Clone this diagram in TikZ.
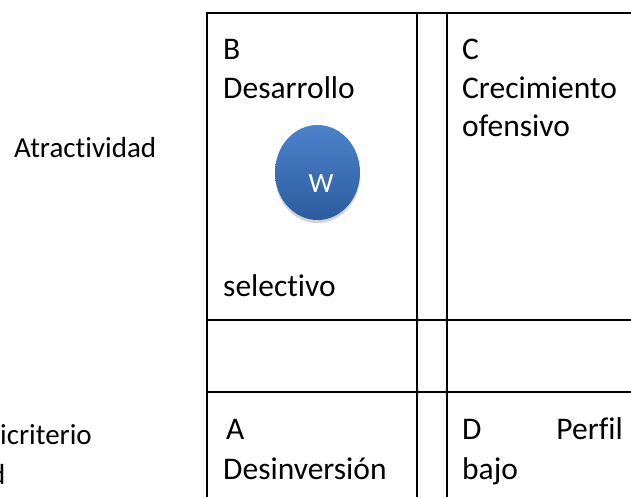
\documentclass[tikz,border=0pt]{standalone}
\usepackage{fontspec}
\setmainfont{Carlito}[Ligatures=NoCommon]
\usetikzlibrary{shapes.geometric, shadows}
\definecolor{balltop}{RGB}{76,130,203}
\definecolor{ballbottom}{RGB}{44,92,158}

\begin{document}
\begin{tikzpicture}[x=1pt,y=-1pt,
    every node/.style={inner sep=0pt,anchor=base west},
    cell/.style={font=\fontsize{31.5}{39}\selectfont},
    side/.style={font=\fontsize{29}{37}\selectfont},
    rule/.style={line width=2.9pt,line cap=rect},
    ball/.style={ellipse,minimum width=85,minimum height=95,anchor=center,
        top color=balltop,bottom color=ballbottom,
        drop shadow={opacity=0.35,shadow xshift=0pt,shadow yshift=-3pt}}]
    \clip[use as bounding box] (0,0) rectangle (631,497);

    \draw[rule] (207,505) -- (207,13) -- (640,13);
    \draw[rule] (417,13) -- (417,505);
    \draw[rule] (447,13) -- (447,505);
    \draw[rule] (207,320) -- (640,320);
    \draw[rule] (207,392) -- (640,392);

    \node[side] (atract) at (14,158) {Atractividad};
    \node[side] (multi)  at (0,444)  {icriterio};
    \node[side,anchor=base east] (dcut) at (5.5,484) {d};

    \node[cell] (b)     at (223,60)  {B};
    \node[cell] (desa)  at (223,99)  {Desarrollo};
    \node[cell] (selec) at (223,296) {selectivo};
    \node[ball] (ball)  at (317.5,172.5) {};
    \node[font=\fontsize{28}{32}\selectfont,text=white,anchor=center] (w) at (321,184) {W};

    \node[cell] (c)     at (462,60)  {C};
    \node[cell] (crec)  at (462,99)  {Crecimiento};
    \node[cell] (ofen)  at (462,137) {ofensivo};

    \node[cell] (a)     at (226,439) {A};
    \node[cell] (desi)  at (223,479) {Desinversión};
    \node[cell] (d)     at (462,439) {D};
    \node[cell,anchor=base east] (perfil) at (623,439) {Perfil};
    \node[cell] (bajo)  at (462,479) {bajo};
\end{tikzpicture}
\end{document}
